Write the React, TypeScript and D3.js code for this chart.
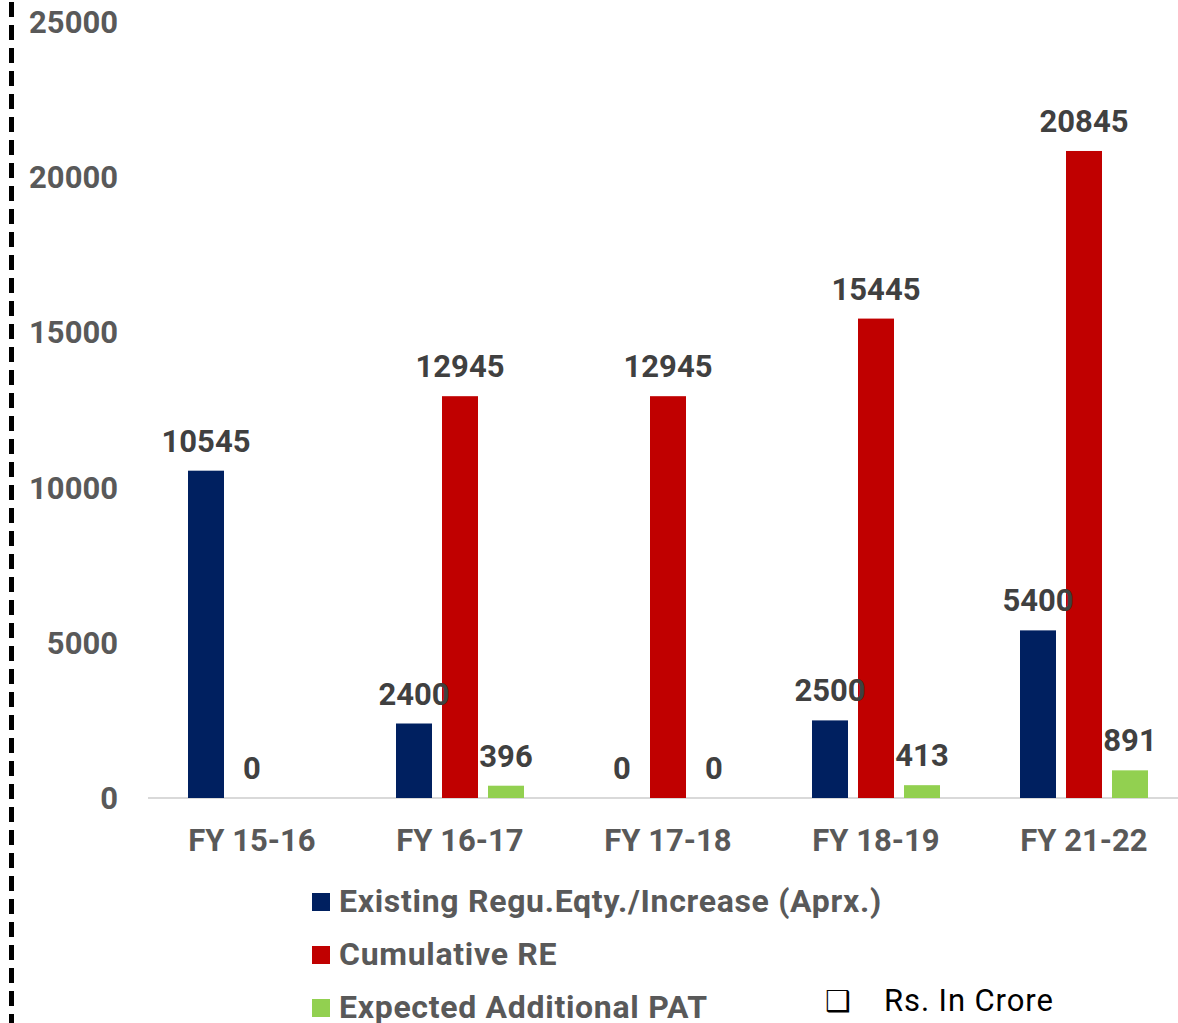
import React from "react";
import * as d3 from "d3";

const categories = ["FY 15-16", "FY 16-17", "FY 17-18", "FY 18-19", "FY 21-22"];
const seriesNames = [
  "Existing Regu.Eqty./Increase (Aprx.)",
  "Cumulative RE",
  "Expected Additional PAT",
];
const existingEquity: (number | null)[] = [10545, 2400, 0, 2500, 5400];
const cumulativeRE: (number | null)[] = [0, 12945, 12945, 15445, 20845];
const additionalPAT: (number | null)[] = [null, 396, 0, 413, 891];
const seriesColors = ["#002060", "#C00000", "#92D050"];
const yTicks = [0, 5000, 10000, 15000, 20000, 25000];
const unitNote = "Rs. In Crore";

const W = 1178;
const H = 1023;
const FONT = "Roboto, 'Noto Sans', sans-serif";

export default function App() {
  const x0 = d3.scaleBand<string>().domain(categories).range([148, 1188]).paddingInner(0).paddingOuter(0);
  const x1 = d3
    .scaleBand<string>()
    .domain(seriesNames)
    .range([-69, 69])
    .paddingInner(10 / 46)
    .paddingOuter(5 / 46);
  const y = d3.scaleLinear().domain([0, 25000]).range([798, 22]);
  const allSeries = [existingEquity, cumulativeRE, additionalPAT];

  return (
    <svg
      width={W}
      height={H}
      style={{ position: "absolute", left: 0, top: 0, background: "#fff" }}
      fontFamily={FONT}
    >
      <rect x={0} y={0} width={W} height={H} fill="#fff" />
      <line x1={11.5} x2={11.5} y1={2} y2={H} stroke="#000" strokeWidth={5} strokeDasharray="15 8" />

      {yTicks.map((t) => (
        <text
          key={t}
          x={118}
          y={y(t) + 11}
          textAnchor="end"
          fontSize={31}
          fontWeight={700}
          fill="#595959"
        >
          {t}
        </text>
      ))}

      <line x1={148} x2={W} y1={y(0)} y2={y(0)} stroke="#D9D9D9" strokeWidth={2} />

      {categories.map((c, i) => (
        <g key={c} transform={`translate(${(x0(c) ?? 0) + x0.bandwidth() / 2},0)`}>
          {allSeries.map((s, j) => {
            const v = s[i];
            if (v == null) return null;
            const bx = x1(seriesNames[j]) ?? 0;
            return (
              <rect
                key={j}
                x={bx}
                y={y(v)}
                width={x1.bandwidth()}
                height={y(0) - y(v)}
                fill={seriesColors[j]}
              />
            );
          })}
        </g>
      ))}

      {categories.map((c, i) => (
        <g key={c + "l"} transform={`translate(${(x0(c) ?? 0) + x0.bandwidth() / 2},0)`}>
          {allSeries.map((s, j) => {
            const v = s[i];
            if (v == null) return null;
            const bx = (x1(seriesNames[j]) ?? 0) + x1.bandwidth() / 2;
            return (
              <text
                key={j}
                x={bx}
                y={y(v) - 19}
                textAnchor="middle"
                fontSize={31}
                fontWeight={700}
                fill="#404040"
              >
                {v}
              </text>
            );
          })}
          <text y={851} textAnchor="middle" fontSize={31} fontWeight={700} fill="#595959">
            {c}
          </text>
        </g>
      ))}

      {seriesNames.map((n, j) => (
        <g key={n} transform={`translate(312,${893 + j * 53})`}>
          <rect x={0} y={0} width={18} height={18} fill={seriesColors[j]} />
          <text x={27} y={19} fontSize={32} fontWeight={700} fill="#595959" letterSpacing={0.7}>
            {n}
          </text>
        </g>
      ))}

      <text x={825} y={1011} fontSize={29} fontFamily="'DejaVu Sans', sans-serif" fill="#000">
        ❑
      </text>
      <text x={884} y={1011} fontSize={31} fill="#000" letterSpacing={0.9}>
        {unitNote}
      </text>
    </svg>
  );
}
